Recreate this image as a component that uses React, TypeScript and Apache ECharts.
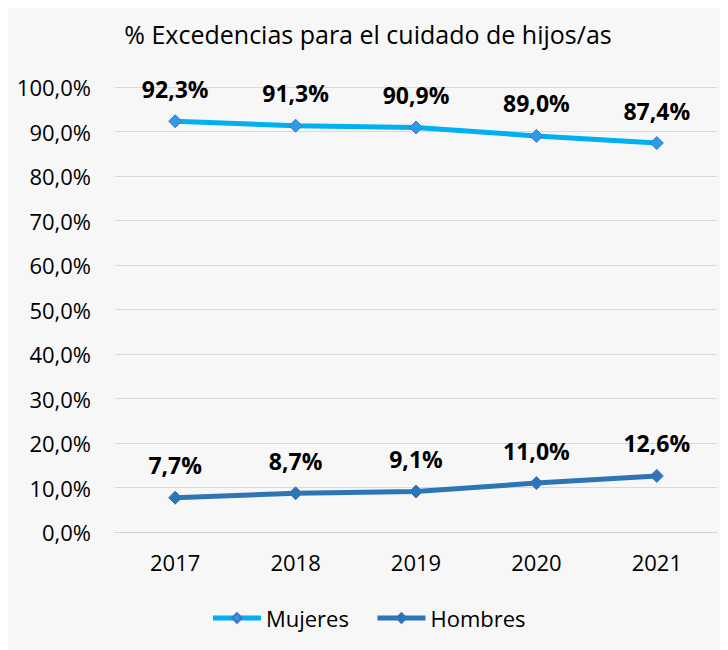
import React, { useEffect, useRef } from "react";
import * as echarts from "echarts";

const years = ["2017", "2018", "2019", "2020", "2021"];
const mujeres = [92.3, 91.3, 90.9, 89.0, 87.4];
const hombres = [7.7, 8.7, 9.1, 11.0, 12.6];
const title = "% Excedencias para el cuidado de hijos/as";

const fmt = (v: number) => v.toFixed(1).replace(".", ",") + "%";
const FONT = "'Open Sans', 'Noto Sans', sans-serif";

export default function App() {
  const ref = useRef<HTMLDivElement>(null);
  useEffect(() => {
    if (!ref.current) return;
    const chart = echarts.init(ref.current, undefined, { renderer: "svg" });
    const label = {
      show: true,
      position: "top",
      distance: 14,
      fontFamily: FONT,
      fontSize: 23,
      fontWeight: "bold",
      color: "#000",
      formatter: (p: any) => fmt(p.value),
    };
    chart.setOption({
      animation: false,
      backgroundColor: "#f7f7f7",
      textStyle: { fontFamily: FONT },
      title: {
        text: title,
        left: "center",
        top: 8,
        textStyle: { fontFamily: FONT, fontSize: 25, fontWeight: "normal", color: "#000" },
      },
      legend: {
        bottom: 16,
        left: "center",
        itemWidth: 48,
        itemHeight: 12,
        itemGap: 26,
        lineStyle: { width: 5 },
        textStyle: { fontFamily: FONT, fontSize: 22, color: "#000" },
        data: [
          { name: "Mujeres", lineStyle: { width: 5, color: "#00b0f0" } },
          { name: "Hombres", lineStyle: { width: 5, color: "#2e75b6" } },
        ],
      },
      grid: { left: 107, right: 11, top: 79, bottom: 118 },
      xAxis: {
        type: "category",
        data: years,
        axisLine: { show: true, lineStyle: { color: "#d0d0d0", width: 1 } },
        axisTick: { show: false },
        axisLabel: { fontFamily: FONT, fontSize: 22, color: "#000", margin: 19 },
      },
      yAxis: {
        type: "value",
        min: 0,
        max: 100,
        interval: 10,
        axisLine: { show: false },
        axisTick: { show: false },
        splitLine: { lineStyle: { color: "#d9d9d9", width: 1 } },
        axisLabel: { fontFamily: FONT, fontSize: 22, color: "#000", margin: 24, formatter: (v: number) => fmt(v) },
      },
      series: [
        {
          name: "Mujeres",
          type: "line",
          data: mujeres,
          symbol: "diamond",
          symbolSize: 13,
          lineStyle: { color: "#00b0f0", width: 5 },
          itemStyle: { color: "#2e9be6", borderColor: "#4472c4", borderWidth: 1 },
          label,
        },
        {
          name: "Hombres",
          type: "line",
          data: hombres,
          symbol: "diamond",
          symbolSize: 13,
          lineStyle: { color: "#2e75b6", width: 5 },
          itemStyle: { color: "#2e75b6", borderColor: "#2e75b6", borderWidth: 1 },
          label,
        },
      ],
    });
    return () => chart.dispose();
  }, []);
  return <div ref={ref} style={{ width: 720, height: 642 }} />;
}
